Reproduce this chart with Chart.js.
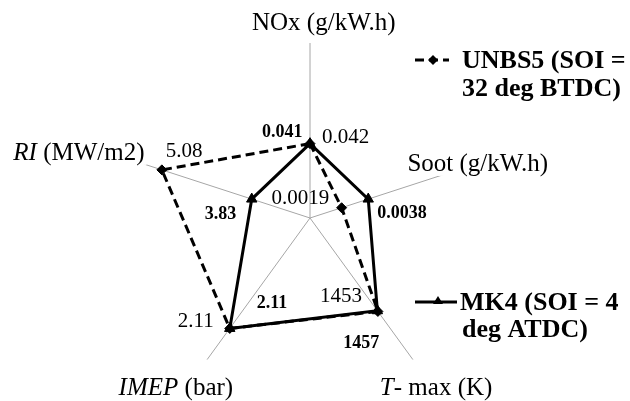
<!DOCTYPE html>
<html>
<head>
<meta charset="utf-8">
<script src="https://cdn.jsdelivr.net/npm/chart.js@4.4.0/dist/chart.umd.min.js"></script>
<style>
  html, body { margin: 0; padding: 0; background: #fff; }
  canvas { display: block; }
</style>
</head>
<body>
<canvas id="radar" width="630" height="401"></canvas>
<script>
// axes, clockwise from the top
const axisNames = ['NOx (g/kW.h)', 'Soot (g/kW.h)', 'T- max (K)', 'IMEP (bar)', 'RI (MW/m2)'];
const axisItalic = ['', '', 'T', 'IMEP', 'RI'];

// plotted (normalised) radius of each point, 0..1
const unbs5Values = [0.425, 0.19, 0.66, 0.78, 0.89];
const mk4Values = [0.425, 0.35, 0.655, 0.78, 0.35];

// numbers written next to the points
const unbs5Labels = ['0.042', '0.0019', '1453', '2.11', '5.08'];
const mk4Labels = ['0.041', '0.0038', '1457', '2.11', '3.83'];

const legendUnbs5 = ['UNBS5 (SOI =', '32 deg BTDC)'];
const legendMk4 = ['MK4 (SOI = 4', 'deg ATDC)'];

const FONT = '"Liberation Serif", "Times New Roman", serif';

// label placement (left x / baseline offset from the point)
const unbs5Offsets = [[12, -1], [-70, -4], [-58, -9], [-52, -1], [4, -13]];
const mk4Offsets = [[-48, -7], [9, 19], [-34, 37], [27, -20], [-47, 20]];
// axis title placement from spoke end: [dx, dy, align]
const axisOffsets = [[-58, -13, 'left'], [-69, 7, 'left'], [-33, 35, 'left'], [26, 35, 'right'], [1, -4, 'right']];

function drawParts(ctx, parts, x, y, align, bg) {
    let total = 0;
    parts.forEach(p => { ctx.font = p.font; total += ctx.measureText(p.t).width; });
    let cx = align === 'right' ? x - total : x;
    if (bg) {
        ctx.fillStyle = '#fff';
        ctx.fillRect(cx - 2, y - 21, total + 4, 26);
    }
    ctx.fillStyle = '#000';
    ctx.textBaseline = 'alphabetic';
    ctx.textAlign = 'left';
    parts.forEach(p => {
        ctx.font = p.font;
        ctx.fillText(p.t, cx, y);
        cx += ctx.measureText(p.t).width;
    });
}

const annotate = {
    id: 'annotate',
    afterDraw(chart) {
        const ctx = chart.ctx;
        const scale = chart.scales.r;
        ctx.save();

        // axis titles
        axisNames.forEach((name, i) => {
            const end = scale.getPointPosition(i, scale.drawingArea);
            const it = axisItalic[i];
            const parts = [];
            if (it) parts.push({ t: it, font: 'italic 25px ' + FONT });
            parts.push({ t: name.slice(it.length), font: '25px ' + FONT });
            const o = axisOffsets[i];
            drawParts(ctx, parts, end.x + o[0], end.y + o[1], o[2], true);
        });

        // value labels
        const m0 = chart.getDatasetMeta(0).data;
        const m1 = chart.getDatasetMeta(1).data;
        unbs5Labels.forEach((t, i) => {
            drawParts(ctx, [{ t: t, font: '21px ' + FONT }],
                m0[i].x + unbs5Offsets[i][0], m0[i].y + unbs5Offsets[i][1], 'left');
        });
        mk4Labels.forEach((t, i) => {
            drawParts(ctx, [{ t: t, font: 'bold 18px ' + FONT }],
                m1[i].x + mk4Offsets[i][0], m1[i].y + mk4Offsets[i][1], 'left');
        });

        // legend
        ctx.strokeStyle = '#000';
        ctx.fillStyle = '#000';
        ctx.lineWidth = 3;
        ctx.setLineDash([9, 5]);
        ctx.beginPath();
        ctx.moveTo(415, 60);
        ctx.lineTo(449, 60);
        ctx.stroke();
        ctx.setLineDash([]);
        ctx.beginPath();
        ctx.moveTo(433, 55); ctx.lineTo(438, 60); ctx.lineTo(433, 65); ctx.lineTo(428, 60);
        ctx.closePath();
        ctx.fill();
        drawParts(ctx, [{ t: legendUnbs5[0], font: 'bold 26px ' + FONT }], 462, 68, 'left');
        drawParts(ctx, [{ t: legendUnbs5[1], font: 'bold 26px ' + FONT }], 462, 96, 'left');

        ctx.strokeStyle = '#000';
        ctx.fillStyle = '#000';
        ctx.lineWidth = 3;
        ctx.beginPath();
        ctx.moveTo(415, 302);
        ctx.lineTo(457, 302);
        ctx.stroke();
        ctx.beginPath();
        ctx.moveTo(438, 296); ctx.lineTo(443, 304); ctx.lineTo(433, 304);
        ctx.closePath();
        ctx.fill();
        drawParts(ctx, [{ t: legendMk4[0], font: 'bold 26px ' + FONT }], 460, 310, 'left');
        drawParts(ctx, [{ t: legendMk4[1], font: 'bold 26px ' + FONT }], 462, 337, 'left');

        ctx.restore();
    }
};

new Chart(document.getElementById('radar'), {
    type: 'radar',
    data: {
        labels: axisNames,
        datasets: [{
            label: 'UNBS5 (SOI = 32 deg BTDC)',
            data: unbs5Values,
            borderColor: '#000',
            borderWidth: 3,
            borderDash: [9, 5],
            fill: false,
            pointStyle: 'rectRot',
            pointRadius: 5,
            pointBackgroundColor: '#000',
            pointBorderColor: '#000',
            pointBorderWidth: 1
        }, {
            label: 'MK4 (SOI = 4 deg ATDC)',
            data: mk4Values,
            borderColor: '#000',
            borderWidth: 3,
            fill: false,
            pointStyle: 'triangle',
            pointRadius: 6,
            pointBackgroundColor: '#000',
            pointBorderColor: '#000',
            pointBorderWidth: 1
        }]
    },
    options: {
        responsive: false,
        animation: false,
        layout: { padding: { left: 135, right: 145, top: 43, bottom: 8 } },
        plugins: {
            legend: { display: false },
            tooltip: { enabled: false }
        },
        scales: {
            r: {
                min: 0,
                max: 1,
                ticks: { display: false },
                grid: { display: false },
                angleLines: { display: true, color: '#a6a6a6', lineWidth: 1 },
                pointLabels: { display: false }
            }
        }
    },
    plugins: [annotate]
});
</script>
</body>
</html>
